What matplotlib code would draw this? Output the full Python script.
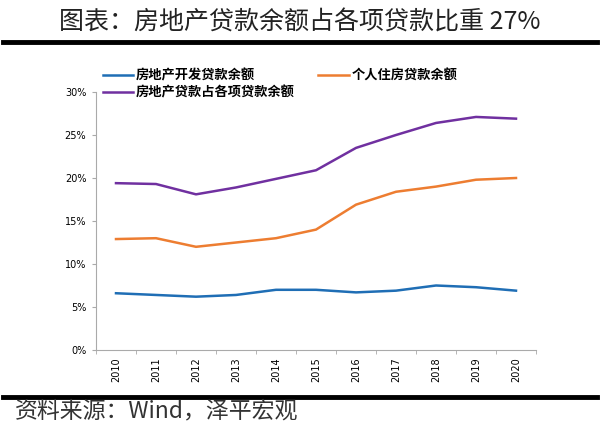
import numpy as np
import matplotlib
matplotlib.use('Agg')
import matplotlib.pyplot as plt
from matplotlib.ticker import PercentFormatter

plt.rcParams['font.family'] = ['Noto Sans CJK SC', 'DejaVu Sans']

# ---------------------------------------------------------------------------
# Data (%)
# ---------------------------------------------------------------------------
years = ['2010', '2011', '2012', '2013', '2014', '2015',
         '2016', '2017', '2018', '2019', '2020']
dev_loans = [6.6, 6.4, 6.2, 6.4, 7.0, 7.0, 6.7, 6.9, 7.5, 7.3, 6.9]
mortgage = [12.9, 13.0, 12.0, 12.5, 13.0, 14.0, 16.9, 18.4, 19.0, 19.8, 20.0]
re_share = [19.4, 19.3, 18.1, 18.9, 19.9, 20.9, 23.5, 25.0, 26.4, 27.1, 26.9]

labels = ['房地产开发贷款余额', '个人住房贷款余额', '房地产贷款占各项贷款余额']
colors = ['#1F6EB5', '#ED7D31', '#7030A0']

W, H = 600, 426
fig = plt.figure(figsize=(W / 100, H / 100), dpi=100)
ax = fig.add_axes([96 / W, 1 - 350 / H, 440 / W, 258 / H])

x = np.arange(len(years))
l1, = ax.plot(x, dev_loans, color=colors[0], lw=1.8, solid_joinstyle='round')
l2, = ax.plot(x, mortgage, color=colors[1], lw=1.8, solid_joinstyle='round')
l3, = ax.plot(x, re_share, color=colors[2], lw=1.8, solid_joinstyle='round')

ax.set_xlim(-0.5, len(years) - 0.5)
ax.set_ylim(0, 30)
ax.set_yticks(np.arange(0, 31, 5))
ax.yaxis.set_major_formatter(PercentFormatter(decimals=0))
ax.set_xticks(x)
ax.set_xticklabels(years, rotation=90, fontsize=7, family='DejaVu Sans')
ax.set_xticks(np.arange(-0.5, len(years), 1), minor=True)
ax.tick_params(axis='x', which='major', length=0, pad=5)
ax.tick_params(axis='x', which='minor', length=3, color='#AAAAAA', direction='out')
ax.tick_params(axis='y', length=3, color='#AAAAAA', labelsize=7, pad=4)
for lab in ax.get_yticklabels():
    lab.set_family('DejaVu Sans')

for s in ['top', 'right']:
    ax.spines[s].set_visible(False)
for s in ['left', 'bottom']:
    ax.spines[s].set_color('#AAAAAA')
    ax.spines[s].set_linewidth(0.8)

fig.legend([l1, l3, l2], [labels[0], labels[2], labels[1]], ncol=2,
           loc='upper left', bbox_to_anchor=(96 / W, 1 - 62 / H),
           frameon=False, prop={'weight': 'bold', 'size': 9.5},
           handlelength=2.3, handletextpad=0.2, columnspacing=1.8,
           labelspacing=0.25, borderpad=0)

# title and rules
fig.text(0.5, 1 - 23 / H, '图表：房地产贷款余额占各项贷款比重 27%',
         ha='center', va='center', fontsize=18, color='#222222')
fig.add_artist(plt.Line2D([3 / W, 597 / W], [1 - 42 / H, 1 - 42 / H],
                          color='black', lw=3.5))
fig.add_artist(plt.Line2D([3 / W, 597 / W], [1 - 397 / H, 1 - 397 / H],
                          color='black', lw=3.5))
fig.text(15 / W, 1 - 411 / H, '资料来源：Wind，泽平宏观',
         ha='left', va='center', fontsize=16.5, style='italic', color='#333333')

fig.savefig('out.png', dpi=100)
